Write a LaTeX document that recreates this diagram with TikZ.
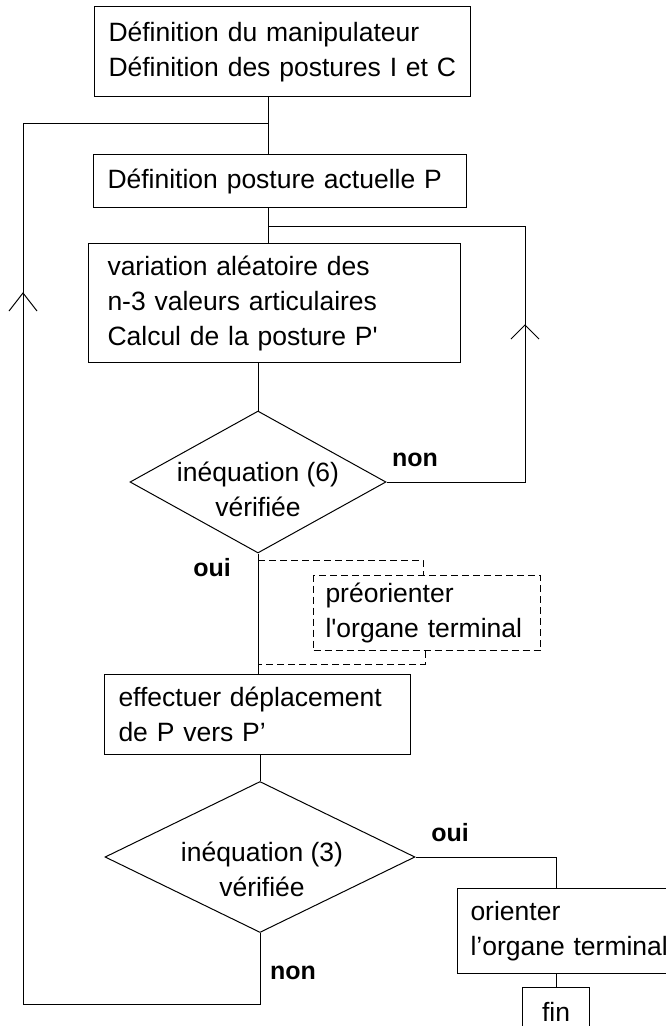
\documentclass[tikz,border=0pt]{standalone}
\usepackage{fontspec}
\setmainfont{Liberation Sans}
\usetikzlibrary{shapes.geometric, calc}

\begin{document}
\begin{tikzpicture}[x=1pt, y=-1pt, line width=1pt,
  texto/.style={font=\fontsize{26.5}{35}\selectfont},
  etapa/.style={draw, texto, anchor=north west, inner xsep=14pt, inner ysep=0pt, align=left},
  losango/.style={draw, diamond, inner sep=0pt},
  rotulo/.style={font=\fontsize{25}{30}\selectfont\bfseries},
  tracejado/.style={dash pattern=on 7pt off 4pt}]
% --- FLUXOGRAMA DA BUSCA DE POSTURA ---
\useasboundingbox (0,0) rectangle (666,1026);
\clip (0,0) rectangle (666,1026);

% LAYER 1: Caixas de etapa
\node[etapa, text width=348, minimum height=90] (defin) at (94,6) {D\'efinition du manipulateur\\D\'efinition des postures I et C};
\node[etapa, text width=345, minimum height=53] (atual) at (93,154) {D\'efinition posture actuelle P};
\node[etapa, inner xsep=19pt, text width=334, minimum height=119] (variacao) at (88,243) {variation al\'eatoire des\\n-3 valeurs articulaires\\Calcul de la posture P\textquotesingle};
\node[etapa, dash pattern=on 7pt off 4pt, inner xsep=12pt, text width=203, minimum height=75] (preorient) at (313,575) {pr\'eorienter\\l\textquotesingle organe terminal};
\node[etapa, text width=278, minimum height=80] (desloc) at (104,674) {effectuer d\'eplacement\\de P vers P'};
\node[etapa, inner xsep=13pt, text width=244, minimum height=85] (orient) at (457,888) {orienter\\l'organe terminal};
\node[draw, texto, minimum width=67, minimum height=50] (fim) at (556,1012) {fin};

% LAYER 2: Testes
\node[losango, minimum width=256, minimum height=142] (ineqseis) at (258,482) {};
\node[texto, align=center] (txtseis) at (258,489) {in\'equation (6)\\v\'erifi\'ee};
\node[losango, minimum width=310, minimum height=151] (ineqtres) at (260,857) {};
\node[texto, align=center] (txttres) at (262,869) {in\'equation (3)\\v\'erifi\'ee};

% LAYER 3: Ligacoes
\coordinate (eixoA) at (268,0);
\coordinate (juncE) at (268,123);
\coordinate (juncD) at (268,226);
\coordinate (cantoD) at (525,226);
\coordinate (cantoE) at (23,1004);
\draw (defin.south -| eixoA) -- (atual.north -| eixoA);
\draw (atual.south -| eixoA) -- (variacao.north -| eixoA);
\draw (variacao.south -| ineqseis) -- (ineqseis.north);
\draw (ineqseis.south) -- (desloc.north -| ineqseis);
\draw (desloc.south -| ineqtres) -- (ineqtres.north);
\draw (ineqseis.east) -| (cantoD) -- (juncD);
\draw (ineqtres.south) -- (ineqtres.south |- cantoE) -- (cantoE) |- (juncE);
\draw (ineqtres.east) -| (orient.north -| fim);
\draw (orient.south -| fim) -- (fim.north);

% LAYER 4: Desvio opcional (tracejado)
\coordinate (desvioA) at (258,560);
\coordinate (desvioB) at (258,664);
\coordinate (pontaA) at (423,560);
\coordinate (pontaB) at (425,664);
\draw[tracejado] (desvioA) -- (pontaA) -- (pontaA |- preorient.north);
\draw[tracejado] (pontaB |- preorient.south) -- (pontaB) -- (desvioB);

% LAYER 5: Setas abertas nos retornos
\coordinate (setaD) at (525,325);
\coordinate (setaE) at (23,293);
\draw (setaD) ++(-14,14) -- (setaD) -- ++(14,14);
\draw (setaE) ++(-14,18) -- (setaE) -- ++(14,18);

% LAYER 6: Rotulos
\node[rotulo] (naoseis) at (415,460) {non};
\node[rotulo] (simseis) at (212,568) {oui};
\node[rotulo] (simtres) at (450,833) {oui};
\node[rotulo] (naotres) at (293,973) {non};
\end{tikzpicture}
\end{document}
